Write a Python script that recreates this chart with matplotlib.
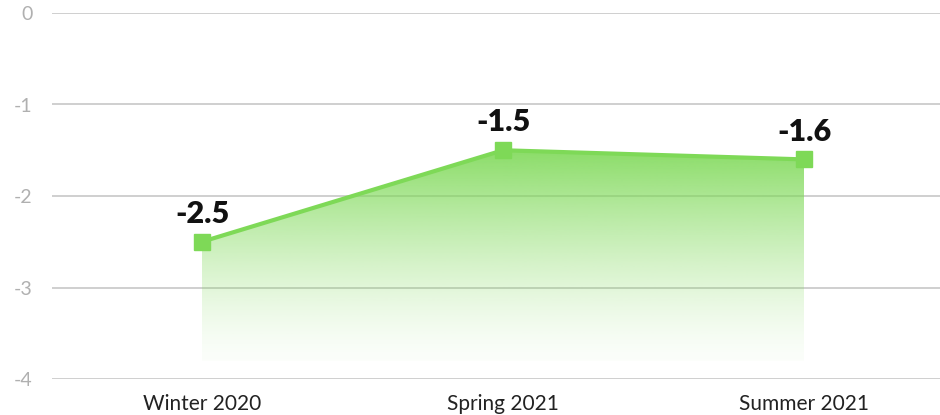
import numpy as np
import matplotlib.pyplot as plt
from matplotlib.patches import Polygon

seasons = ["Winter 2020", "Spring 2021", "Summer 2021"]
values = [-2.5, -1.5, -1.6]
y_ticks = [0, -1, -2, -3, -4]
fill_floor = -3.8

green = "#7ed957"

plt.rcParams["font.family"] = ["Lato", "DejaVu Sans"]

fig = plt.figure(figsize=(9.4, 4.15), dpi=100)
ax = fig.add_axes([52 / 940, 1 - 379 / 415, 1 - 52 / 940, 366 / 415])

x = np.arange(len(seasons))

# gradient under the line, clipped to the area polygon
poly_pts = [(x[0], fill_floor)] + list(zip(x, values)) + [(x[-1], fill_floor)]
clip = Polygon(poly_pts, closed=True, facecolor="none", edgecolor="none")
ax.add_patch(clip)
top = max(values)
grad = np.zeros((256, 1, 4))
grad[..., 0], grad[..., 1], grad[..., 2] = 0x7e / 255, 0xd9 / 255, 0x57 / 255
grad[:, 0, 3] = 0.03 + 0.87 * np.linspace(0.0, 1.0, 256) ** 1.4
img = ax.imshow(grad, aspect="auto", origin="lower",
                extent=[x[0], x[-1], fill_floor, top], zorder=2)
img.set_clip_path(clip)

ax.plot(x, values, color=green, lw=3, marker="s", markersize=12,
        zorder=4, solid_capstyle="butt")

for xi, v in zip(x, values):
    ax.annotate(f"{v}", (xi, v), xytext=(0, 10), textcoords="offset points",
                ha="center", va="bottom", fontsize=22, fontweight="heavy",
                color="#111111", zorder=5)

ax.set_xlim((52 - 202) / 301, (940 - 202) / 301)
ax.set_ylim(-4, 0)
ax.set_yticks(y_ticks)
ax.set_yticklabels([str(t) for t in y_ticks])
ax.set_xticks(x)
ax.set_xticklabels(seasons)
ax.grid(axis="y", color="#cccccc", lw=1.3, zorder=0)
ax.set_axisbelow(True)
for s in ax.spines.values():
    s.set_visible(False)
ax.tick_params(axis="y", length=0, pad=14, labelsize=14, labelcolor="#b0b0b0")
ax.tick_params(axis="x", length=0, pad=11, labelsize=15, labelcolor="#222222")

fig.savefig("out.png", dpi=100)
